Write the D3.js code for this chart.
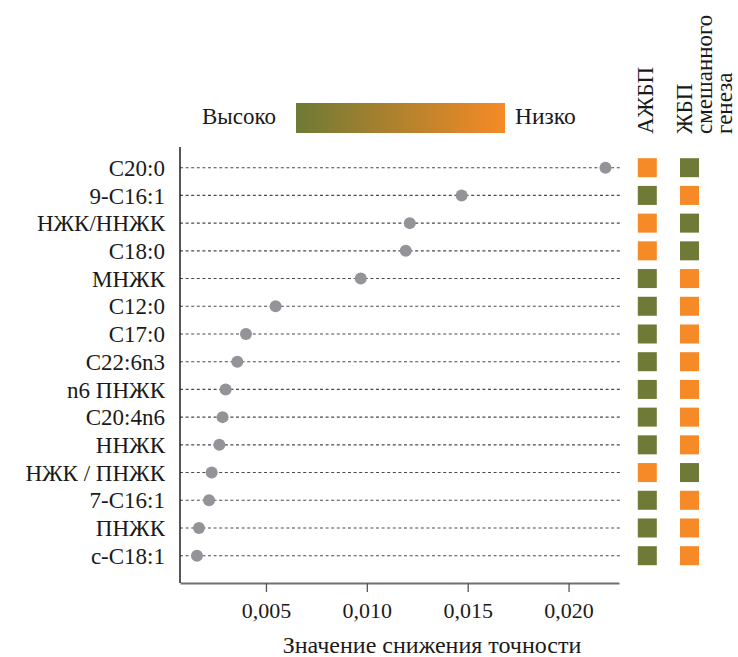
<!DOCTYPE html>
<html><head><meta charset="utf-8">
<script src="https://cdn.jsdelivr.net/npm/d3@7"></script>
<style>body{margin:0;background:#fff}svg{display:block}svg text{font-family:"Liberation Serif","Times New Roman",serif !important;fill:#1a1a1a}</style>
</head><body>
<script>
const categories = ["C20:0","9-C16:1","НЖК/ННЖК","C18:0","МНЖК","C12:0","C17:0","C22:6n3","n6 ПНЖК","C20:4n6","ННЖК","НЖК / ПНЖК","7-C16:1","ПНЖК","c-C18:1"];
const values = [0.02183,0.0147,0.01213,0.01193,0.0097,0.00548,0.00401,0.00358,0.0030,0.00285,0.00269,0.00231,0.00218,0.00168,0.00158];
// 0 = Высоко (high), 1 = Низко (low)
const azhbp = [1,0,1,1,0,0,0,0,0,0,0,1,0,0,0];
const zhbpMixed = [0,1,0,0,1,1,1,1,1,1,1,0,1,1,1];
const xTicks = [0.005,0.010,0.015,0.020];
const legendLabels = ["Высоко","Низко"];
const columnHeaders = [["АЖБП"],["ЖБП","смешанного","генеза"]];
const xTitle = "Значение снижения точности";

const W = 738, H = 657;
const svg = d3.select("body").append("svg").attr("width",W).attr("height",H);

const x = d3.scaleLinear().domain([0.00074,0.0225]).range([180,619]);
const y = d3.scalePoint().domain(categories).range([167.7,555.7]);
const colOlive = "#6E7A35", colOrange = "#F68A26";
const color = d3.scaleLinear().domain([0,1]).range([colOlive,colOrange]);
const SERIF = "'Liberation Serif', 'Times New Roman', serif";

// dashed guide lines
svg.append("g").selectAll("line").data(categories).join("line")
  .attr("x1",180).attr("x2",620)
  .attr("y1",d=>y(d)).attr("y2",d=>y(d))
  .attr("stroke","#4a4a4a").attr("stroke-width",1.1).attr("stroke-dasharray","3,2.6");

// x axis
const xAxis = d3.axisBottom(x).tickValues(xTicks).tickSize(9).tickSizeOuter(0)
  .tickFormat(d=>d3.format(".3f")(d).replace(".",","));
const gx = svg.append("g").attr("transform","translate(0,583)").call(xAxis);
gx.attr("font-family",SERIF);
gx.select(".domain").attr("stroke","#707070").attr("stroke-width",1.8);
gx.selectAll(".tick line").attr("stroke","#555").attr("stroke-width",1.3);
gx.selectAll(".tick text").attr("dy",0).attr("y",35).style("font-size","22px").style("font-family",SERIF).attr("fill","#1a1a1a");

// y axis
const yAxis = d3.axisLeft(y).tickSize(0).tickPadding(15);
const gy = svg.append("g").attr("transform","translate(180,0)").call(yAxis);
gy.attr("font-family",SERIF);
gy.select(".domain").attr("d","M0,147V583").attr("stroke","#111").attr("stroke-width",1.4);
gy.selectAll(".tick text").attr("dy","0.33em").style("font-size","23px").style("font-family",SERIF).attr("fill","#1a1a1a");

// dots
svg.append("g").selectAll("circle").data(values).join("circle")
  .attr("cx",d=>x(d)).attr("cy",(d,i)=>y(categories[i])).attr("r",6)
  .attr("fill","#939398");

// squares
const sq = 19;
[azhbp,zhbpMixed].forEach((arr,c)=>{
  const cx = c===0 ? 647.3 : 689.5;
  svg.append("g").selectAll("rect").data(arr).join("rect")
    .attr("x",cx-sq/2).attr("y",(d,i)=>y(categories[i])-sq/2)
    .attr("width",sq).attr("height",sq).attr("fill",d=>color(d));
});

// column headers
const hdrPos = [[653],[692,712,732]];
columnHeaders.forEach((lines,c)=>{
  lines.forEach((t,j)=>{
    svg.append("text").attr("transform",`translate(${hdrPos[c][j]},134) rotate(-90)`)
      .attr("text-anchor","start").style("font-size","23px").style("font-family",SERIF).text(t);
  });
});

// legend gradient
const defs = svg.append("defs");
const grad = defs.append("linearGradient").attr("id","lg");
grad.append("stop").attr("offset","0%").attr("stop-color",color(0));
grad.append("stop").attr("offset","100%").attr("stop-color",color(1));
svg.append("rect").attr("x",296).attr("y",103).attr("width",209).attr("height",30).attr("fill","url(#lg)");
svg.append("text").attr("x",276).attr("y",124).attr("text-anchor","end").style("font-size","23px").style("font-family",SERIF).text(legendLabels[0]);
svg.append("text").attr("x",515).attr("y",124).attr("text-anchor","start").style("font-size","23.5px").style("font-family",SERIF).text(legendLabels[1]);

// x title
svg.append("text").attr("x",432).attr("y",653).attr("text-anchor","middle").style("font-size","24px").style("font-family",SERIF).text(xTitle);
</script>
</body></html>
